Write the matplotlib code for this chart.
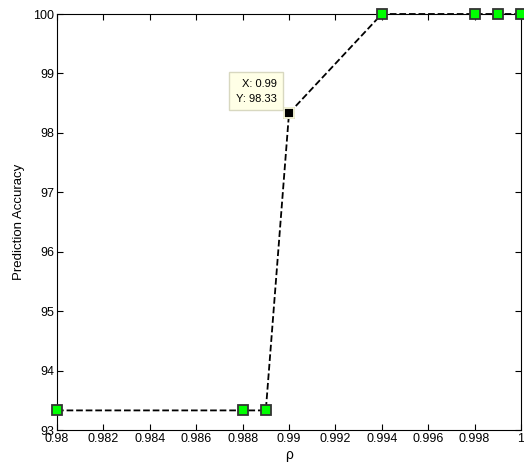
import matplotlib
matplotlib.use("Agg")
import matplotlib.pyplot as plt

# values
rho = [0.98, 0.988, 0.989, 0.99, 0.994, 0.998, 0.999, 1.0]
accuracy = [93.33, 93.33, 93.33, 98.33, 100, 100, 100, 100]
x_ticks = [0.98, 0.982, 0.984, 0.986, 0.988, 0.99, 0.992, 0.994, 0.996, 0.998, 1.0]
x_labels = ["0.98", "0.982", "0.984", "0.986", "0.988", "0.99", "0.992", "0.994", "0.996", "0.998", "1"]
y_ticks = [93, 94, 95, 96, 97, 98, 99, 100]
tip_index = 3

plt.rcParams['font.family'] = ['Liberation Sans', 'DejaVu Sans']

fig = plt.figure(figsize=(5.24, 4.75), dpi=100)
ax = fig.add_axes([0.1088, 0.0947, 0.8855, 0.8758])

ax.plot(rho, accuracy, linestyle="--", color="black", linewidth=1.3,
        marker="s", markersize=7.5, markerfacecolor="#00ff00",
        markeredgecolor="#333333", markeredgewidth=1.3, clip_on=False, zorder=3)

# data tip
tx, ty = rho[tip_index], accuracy[tip_index]
ax.plot([tx], [ty], marker="s", markersize=7.5, markerfacecolor="black",
        markeredgecolor="#ffffe0", markeredgewidth=1.3, zorder=4)
ax.annotate("X: %.2f\nY: %.2f" % (tx, ty), xy=(tx, ty), xytext=(-9, 7),
            textcoords="offset points", ha="right", va="bottom",
            fontsize=8, multialignment="right", linespacing=1.6,
            bbox=dict(boxstyle="square,pad=0.6", facecolor="#ffffe6",
                      edgecolor="#d8d8c0", linewidth=1), zorder=5)

ax.set_xlim(0.98, 1.0)
ax.set_ylim(93, 100)
ax.set_xticks(x_ticks)
ax.set_xticklabels(x_labels)
ax.set_yticks(y_ticks)
ax.tick_params(direction="in", top=True, right=True, length=4, width=0.8,
               labelsize=9, pad=2)
for s in ax.spines.values():
    s.set_linewidth(0.8)

ax.set_xlabel("ρ", fontsize=10, labelpad=2)
ax.set_ylabel("Prediction Accuracy", fontsize=9.5, labelpad=6)

fig.savefig("out.png", dpi=100)
